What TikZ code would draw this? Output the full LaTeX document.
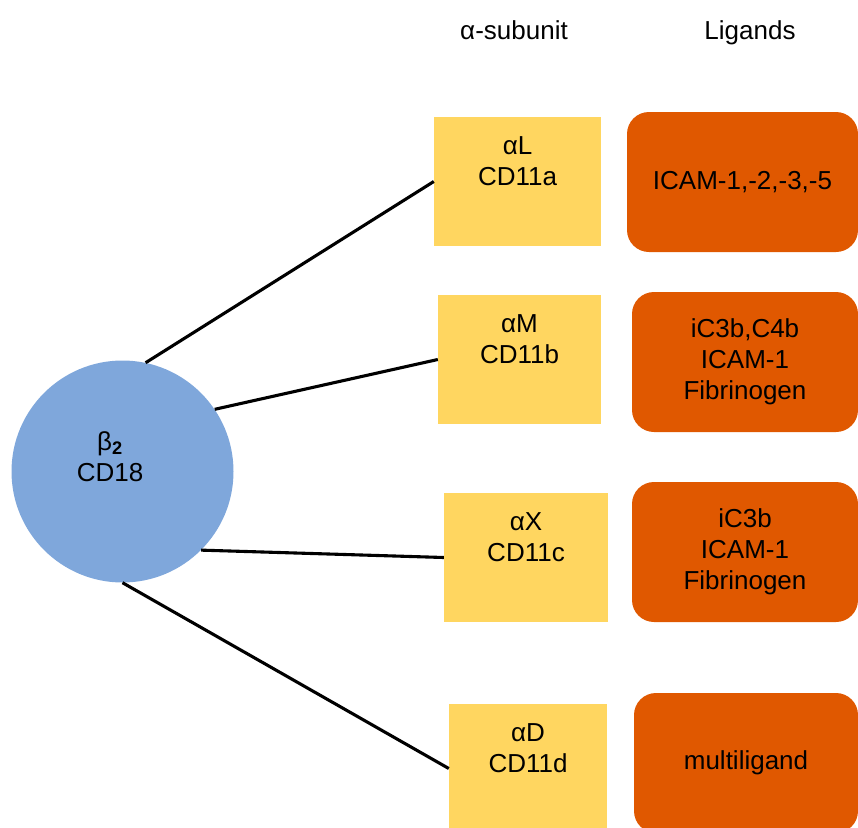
\documentclass[tikz,border=0pt]{standalone}
\usepackage{fontspec}
\setmainfont{Liberation Sans}
\definecolor{subcol}{RGB}{255,214,96}
\definecolor{ligcol}{RGB}{224,88,0}
\definecolor{betacol}{RGB}{127,167,219}
\begin{document}
\begin{tikzpicture}[x=1pt,y=-1pt,
		txt/.style={font=\fontsize{26}{31}\selectfont,align=center,inner sep=0pt},
		subbox/.style={txt,fill=subcol,minimum height=129pt},
		ligbox/.style={txt,fill=ligcol,rounded corners=22pt,minimum height=140pt},
		link/.style={line width=3.1pt}]
			\useasboundingbox (0,0) rectangle (858,827);
			\clip (0,0) rectangle (858,827);
			\node[txt,anchor=base] (hsub) at (514,39) {α-subunit};
			\node[txt,anchor=base] (hlig) at (750,39) {Ligands};
			\node[circle,fill=betacol,minimum size=222pt,inner sep=0pt] (beta) at (122.5,471.5) {};
			\node[txt] (betatxt) at (110,457) {β\textsubscript{\textbf{2}}\\CD18};
			\node[subbox,minimum width=167pt] (aL) at (517.5,181.5) {αL\\CD11a\\\strut};
			\node[subbox,minimum width=163pt] (aM) at (519.5,359.5) {αM\\CD11b\\\strut};
			\node[subbox,minimum width=164pt] (aX) at (526,557.5) {αX\\CD11c\\\strut};
			\node[subbox,minimum width=158pt] (aD) at (528,768.5) {αD\\CD11d\\\strut};
			\node[ligbox,minimum width=231pt] (ligL) at (742.5,182) {ICAM-1,-2,-3,-5};
			\node[ligbox,minimum width=226pt] (ligM) at (745,362) {iC3b,C4b\\ICAM-1\\Fibrinogen};
			\node[ligbox,minimum width=226pt] (ligX) at (745,552) {iC3b\\ICAM-1\\Fibrinogen};
			\node[ligbox,minimum width=224pt] (ligD) at (746,763) {multiligand};
			\draw[link] (beta.78) -- (aL.west);
			\draw[link] (beta.34) -- (aM.west);
			\draw[link] (beta.-45) -- (aX.west);
			\draw[link] (beta.-90) -- (aD.west);
		\end{tikzpicture}
\end{document}
